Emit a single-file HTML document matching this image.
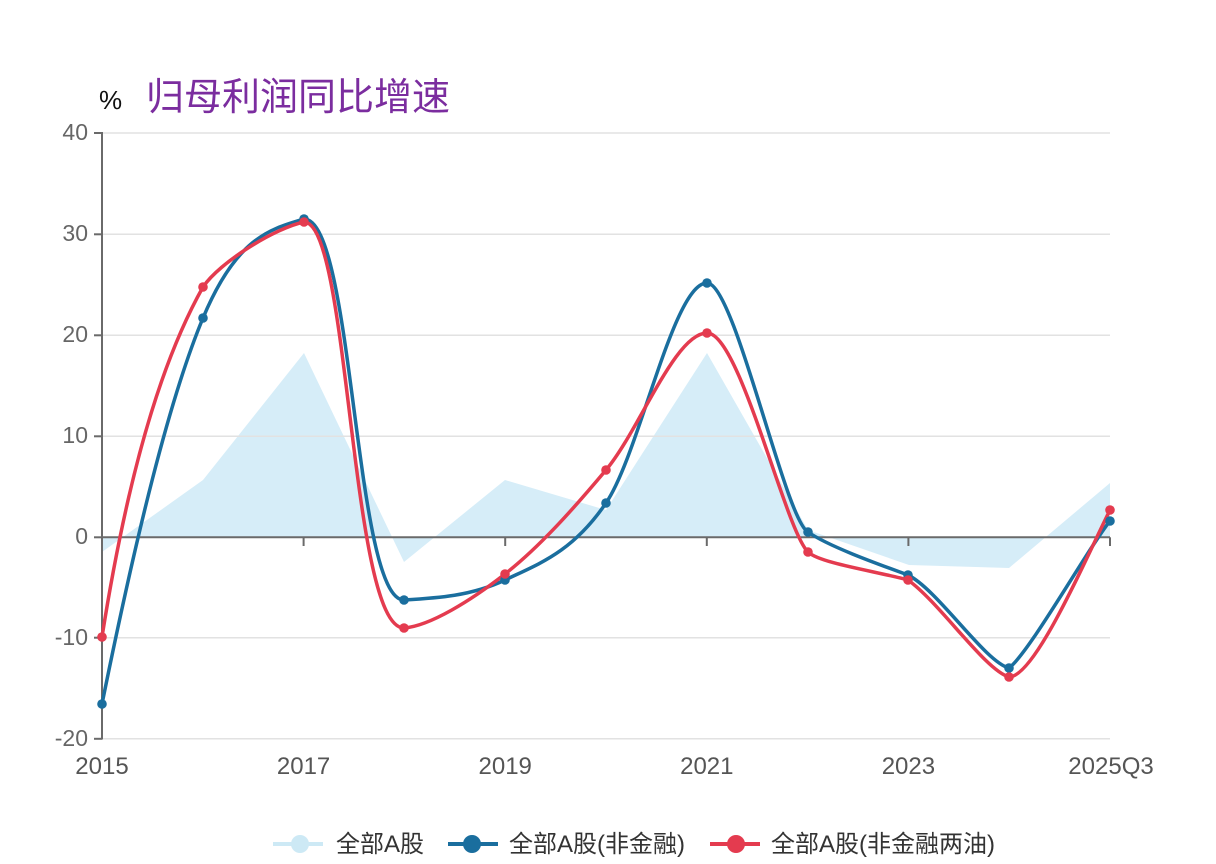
<!DOCTYPE html>
<html>
<head>
<meta charset="utf-8">
<style>
  html, body { margin:0; padding:0; background:#ffffff; }
  body { width:1216px; height:864px; overflow:hidden; }
  svg { display:block; }
  .ylab { font-family:"Liberation Sans", sans-serif; font-size:23px; fill:#666; text-anchor:end; }
  .xlab { font-family:"Liberation Sans", sans-serif; font-size:24px; fill:#555; text-anchor:middle; }
  .leg { font-family:"Liberation Sans", "Noto Sans CJK SC", sans-serif; font-size:24px; fill:#333; }
</style>
</head>
<body>
<svg width="1216" height="864" viewBox="0 0 1216 864" xmlns="http://www.w3.org/2000/svg">
  <rect x="0" y="0" width="1216" height="864" fill="#ffffff"/>

  <!-- Title -->
  <text x="99" y="109" font-family="Liberation Sans, sans-serif" font-size="26" fill="#111">%</text>
  <text x="146" y="110" font-family="Liberation Sans, 'Noto Sans CJK SC', sans-serif" font-size="38" fill="#7b2d9f">归母利润同比增速</text>

  <!-- Area -->
  <path d="M102,537 L102,552 L203,480 L304,353 L404,562 L505,480 L606,510 L707,353 L808,530 L909,565 L1009,568 L1110,483 L1110,537 Z" fill="#d6edf8"/>

  <!-- Gridlines -->
  <g stroke="#e2e2e2" stroke-width="1.5">
    <line x1="102" y1="133" x2="1110" y2="133"/>
    <line x1="102" y1="234.3" x2="1110" y2="234.3"/>
    <line x1="102" y1="335.3" x2="1110" y2="335.3"/>
    <line x1="102" y1="436.3" x2="1110" y2="436.3"/>
    <line x1="102" y1="637.7" x2="1110" y2="637.7"/>
    <line x1="102" y1="738.8" x2="1110" y2="738.8"/>
  </g>

  <!-- Axes -->
  <g stroke="#6a6a6a" stroke-width="2" fill="none">
    <line x1="102" y1="132" x2="102" y2="739.5"/>
    <line x1="102" y1="537.3" x2="1110" y2="537.3"/>
    <line x1="94" y1="133" x2="102" y2="133"/>
    <line x1="94" y1="234.3" x2="102" y2="234.3"/>
    <line x1="94" y1="335.3" x2="102" y2="335.3"/>
    <line x1="94" y1="436.3" x2="102" y2="436.3"/>
    <line x1="94" y1="537.3" x2="102" y2="537.3"/>
    <line x1="94" y1="637.7" x2="102" y2="637.7"/>
    <line x1="94" y1="738.8" x2="102" y2="738.8"/>
    <line x1="303.6" y1="537.3" x2="303.6" y2="546"/>
    <line x1="505.2" y1="537.3" x2="505.2" y2="546"/>
    <line x1="706.8" y1="537.3" x2="706.8" y2="546"/>
    <line x1="908.4" y1="537.3" x2="908.4" y2="546"/>
    <line x1="1110" y1="537.3" x2="1110" y2="546"/>
  </g>

  <!-- Y labels -->
  <text class="ylab" x="88" y="140">40</text>
  <text class="ylab" x="88" y="241">30</text>
  <text class="ylab" x="88" y="342">20</text>
  <text class="ylab" x="88" y="443">10</text>
  <text class="ylab" x="88" y="544">0</text>
  <text class="ylab" x="88" y="645">-10</text>
  <text class="ylab" x="88" y="746">-20</text>

  <!-- X labels -->
  <text class="xlab" x="102" y="774">2015</text>
  <text class="xlab" x="303.6" y="774">2017</text>
  <text class="xlab" x="505.2" y="774">2019</text>
  <text class="xlab" x="706.8" y="774">2021</text>
  <text class="xlab" x="908.4" y="774">2023</text>
  <text class="xlab" x="1111" y="774">2025Q3</text>

  <!-- Blue series -->
  <path d="M102,704 C135.7,537.3 169.3,398.7 203,318
           C236.7,237.3 270.3,229 304,219
           C354,219 354,600 404,600
           C437.7,598 471.3,596 505,580
           C538.7,563.8 572.3,552.5 606,503
           C639.7,453.5 673.3,283 707,283
           C735,283 785,520 808,532
           C828,546 875,563 908,575
           C938,590 985,662 1009,668
           C1030,652 1090,545 1110,521"
        fill="none" stroke="#1a6e9e" stroke-width="3.5" stroke-linejoin="round" stroke-linecap="round"/>

  <!-- Red series -->
  <path d="M102,637 C132,447 169.3,347 203,287
           C220,262 275,228 304,222
           C350,222 350,628 404,628
           C430,626 471.3,600.3 505,574
           C538.7,547.7 572.3,510.2 606,470
           C639.7,429.8 675,333 707,333
           C740,333 785,530 808,552
           C820,563.5 880,572 908,580
           C940,603 985,670 1009,677
           C1035,677 1085,560 1110,510"
        fill="none" stroke="#e43b4f" stroke-width="3.5" stroke-linejoin="round" stroke-linecap="round"/>

  <!-- Blue markers -->
  <g fill="#1a6e9e">
    <circle cx="102" cy="704" r="4.8"/>
    <circle cx="203" cy="318" r="4.8"/>
    <circle cx="304" cy="219" r="4.8"/>
    <circle cx="404" cy="600" r="4.8"/>
    <circle cx="505" cy="580" r="4.8"/>
    <circle cx="606" cy="503" r="4.8"/>
    <circle cx="707" cy="283" r="4.8"/>
    <circle cx="808" cy="532" r="4.8"/>
    <circle cx="908" cy="575" r="4.8"/>
    <circle cx="1009" cy="668" r="4.8"/>
    <circle cx="1110" cy="521" r="4.8"/>
  </g>

  <!-- Red markers -->
  <g fill="#e43b4f">
    <circle cx="102" cy="637" r="4.8"/>
    <circle cx="203" cy="287" r="4.8"/>
    <circle cx="304" cy="222" r="4.8"/>
    <circle cx="404" cy="628" r="4.8"/>
    <circle cx="505" cy="574" r="4.8"/>
    <circle cx="606" cy="470" r="4.8"/>
    <circle cx="707" cy="333" r="4.8"/>
    <circle cx="808" cy="552" r="4.8"/>
    <circle cx="908" cy="580" r="4.8"/>
    <circle cx="1009" cy="677" r="4.8"/>
    <circle cx="1110" cy="510" r="4.8"/>
  </g>

  <!-- Legend -->
  <line x1="273" y1="844" x2="323" y2="844" stroke="#cde9f5" stroke-width="4"/>
  <circle cx="300" cy="844" r="9" fill="#cde9f5"/>
  <text class="leg" x="336" y="852">全部A股</text>

  <line x1="448" y1="844" x2="498" y2="844" stroke="#1a6e9e" stroke-width="4"/>
  <circle cx="472" cy="844" r="9" fill="#1a6e9e"/>
  <text class="leg" x="509" y="852">全部A股(非金融)</text>

  <line x1="710" y1="844" x2="760" y2="844" stroke="#e43b4f" stroke-width="4"/>
  <circle cx="736" cy="844" r="9" fill="#e43b4f"/>
  <text class="leg" x="771" y="852">全部A股(非金融两油)</text>
</svg>
</body>
</html>
